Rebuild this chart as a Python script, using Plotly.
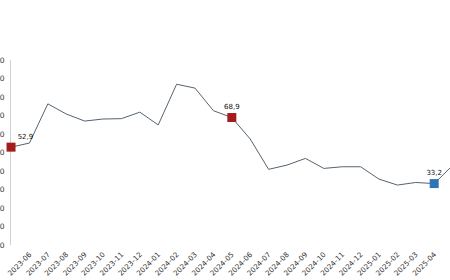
import plotly.graph_objects as go

months = ["2023-05","2023-06","2023-07","2023-08","2023-09","2023-10","2023-11","2023-12",
          "2024-01","2024-02","2024-03","2024-04","2024-05","2024-06","2024-07","2024-08",
          "2024-09","2024-10","2024-11","2024-12","2025-01","2025-02","2025-03","2025-04","2025-05"]
values = [52.9, 55.1, 76.3, 70.8, 67.0, 68.1, 68.3, 71.8,
          64.9, 86.9, 84.8, 72.6, 68.9, 57.3, 40.9, 43.2,
          46.8, 41.4, 42.3, 42.3, 35.6, 32.4, 33.8, 33.2, 43.0]

hl_idx = [0, 12, 23, 24]
hl_colors = ["#a51c1c", "#a51c1c", "#2e75b6", "rgba(0,0,0,0)"]
hl_pos = ["top right", "top center", "top center", "top center"]

def fmt(v):
    return f"{v:.1f}".replace(".", ",")

x_idx = list(range(len(months)))

fig = go.Figure()
fig.add_trace(go.Scatter(
    x=x_idx, y=values, mode="lines",
    line=dict(color="#56636f", width=1),
    hoverinfo="skip", showlegend=False))
fig.add_trace(go.Scatter(
    x=[x_idx[i] for i in hl_idx], y=[values[i] for i in hl_idx],
    mode="markers+text",
    marker=dict(symbol="square", size=9, color=hl_colors,
                line=dict(width=0)),
    text=[fmt(values[i]) for i in hl_idx],
    textposition=hl_pos,
    textfont=dict(family="DejaVu Sans", size=7, color="#111111"),
    cliponaxis=False, showlegend=False))

spacing = 18.4
plot_w = 450 - 11
fig.update_layout(
    width=450, height=280,
    margin=dict(l=11, r=0, t=60, b=35),
    paper_bgcolor="white", plot_bgcolor="white",
    font=dict(family="DejaVu Sans", size=7, color="#444444"),
    xaxis=dict(range=[-0.002, plot_w / spacing], tickmode="array",
               tickvals=x_idx, ticktext=months, tickangle=-45,
               showgrid=False, zeroline=False, showline=False,
               ticklabelstandoff=3,
               tickfont=dict(family="DejaVu Sans", size=7.2, color="#333333"),
               automargin=False),
    yaxis=dict(range=[0, 100], dtick=10, showgrid=False, zeroline=False,
               showline=True, linecolor="#d0d0d0", linewidth=1,
               layer="below traces", ticklabelstandoff=4,
               tickfont=dict(family="DejaVu Sans", size=7.5, color="#333333"),
               automargin=False),
)
fig.write_html("out.html")
